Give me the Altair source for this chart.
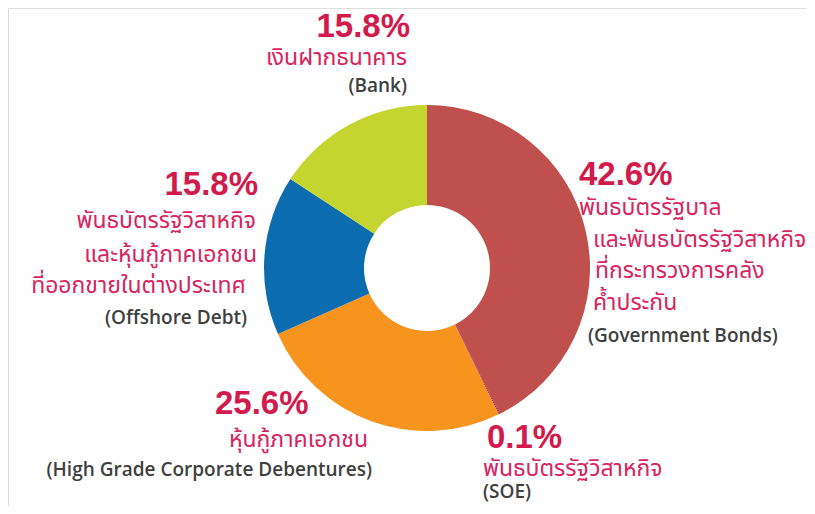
import altair as alt
import pandas as pd

# ---- data ----
categories = ["Government Bonds", "SOE", "High Grade Corporate Debentures", "Offshore Debt", "Bank"]
values = [42.6, 0.1, 25.6, 15.8, 15.8]
colors = ["#C0504D", "#8E1F4A", "#F7941D", "#0B6CAF", "#C4D52F"]
thai_lines = [
    ["พันธบัตรรัฐบาล", "และพันธบัตรรัฐวิสาหกิจ", "ที่กระทรวงการคลัง", "ค้ำประกัน"],
    ["พันธบัตรรัฐวิสาหกิจ"],
    ["หุ้นกู้ภาคเอกชน"],
    ["พันธบัตรรัฐวิสาหกิจ", "และหุ้นกู้ภาคเอกชน", "ที่ออกขายในต่างประเทศ"],
    ["เงินฝากธนาคาร"],
]
english = ["(Government Bonds)", "(SOE)", "(High Grade Corporate Debentures)", "(Offshore Debt)", "(Bank)"]

# ---- layout (chart pixel coords; page minus 8px margin) ----
W, H = 799, 498
CX, CY = 419, 260
R_OUT, R_IN = 163, 63
layout = {
    "Government Bonds": [(571, 177, "left"), (571, 207, "left"), (585, 239, "left"), (587, 270, "left"),
                         (585, 302, "left"), (580, 334, "left")],
    "SOE": [(479, 440, "left"), (475, 468, "left"), (475, 490, "left")],
    "High Grade Corporate Debentures": [(207, 406, "left"), (360, 439, "right"), (364, 468, "right")],
    "Offshore Debt": [(250, 187, "right"), (248, 220, "right"), (249, 254, "right"), (238, 285, "right"),
                      (239, 316, "right")],
    "Bank": [(402, 29, "right"), (399, 57, "right"), (399, 84, "right")],
}

pie_df = pd.DataFrame({"category": categories, "value": values, "order": list(range(len(values)))})

rows = []
for i, cat in enumerate(categories):
    lines = [(f"{values[i]:.1f}%", "pct")] + [(t, "thai") for t in thai_lines[i]] + [(english[i], "eng")]
    for (txt, kind), (x, y, al) in zip(lines, layout[cat]):
        rows.append({"label": txt, "kind": kind, "px": x, "py": y, "anchor": al})
lab_df = pd.DataFrame(rows)

arc = alt.Chart(pie_df).mark_arc(outerRadius=R_OUT, innerRadius=R_IN, strokeWidth=0).encode(
    theta=alt.Theta("value:Q", stack=True),
    order=alt.Order("order:Q"),
    color=alt.Color("category:N", scale=alt.Scale(domain=categories, range=colors), legend=None),
    x=alt.value(CX),
    y=alt.value(CY),
)

xs = alt.Scale(domain=[0, W], nice=False, zero=False)
ys = alt.Scale(domain=[H, 0], nice=False, zero=False)

def text_layer(kind, align, font, size, weight, color):
    d = lab_df[(lab_df.kind == kind) & (lab_df.anchor == align)].reset_index(drop=True)
    return alt.Chart(d).mark_text(
        align=align, baseline="alphabetic", font=font, fontSize=size, fontWeight=weight, color=color,
    ).encode(
        x=alt.X("px:Q", scale=xs, axis=None),
        y=alt.Y("py:Q", scale=ys, axis=None),
        text="label:N",
    )

layers = [arc]
for al in ["left", "right"]:
    layers.append(text_layer("pct", al, "Liberation Sans", 33, "bold", "#D21A4C"))
    layers.append(text_layer("thai", al, "Noto Sans Thai", 23, "normal", "#D9245C"))
    layers.append(text_layer("eng", al, "Open Sans", 19, 600, "#404040"))

chart = alt.layer(*layers).properties(
    width=W, height=H, padding=0,
    autosize=alt.AutoSizeParams(type="none"),
).configure_view(strokeWidth=0, stroke=None).configure(background="white")

chart.save("out.html", embed_options={"renderer": "svg", "actions": False})
